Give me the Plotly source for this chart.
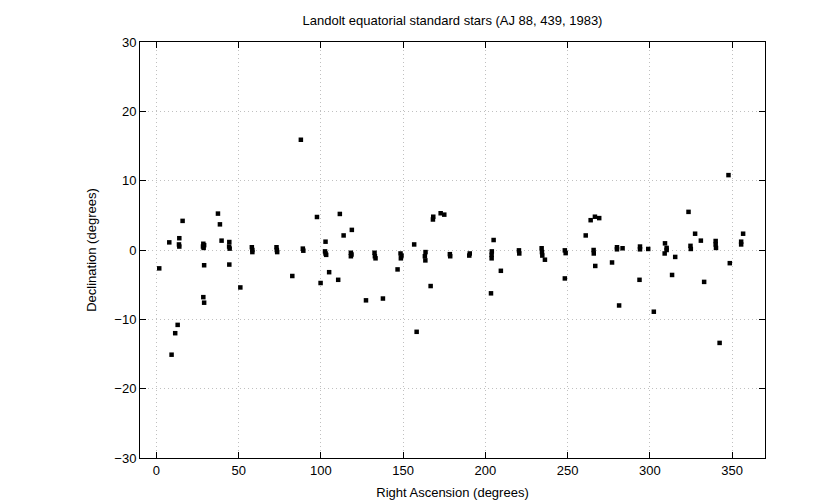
import plotly.graph_objects as go

ra = [1.7, 7.8, 9.2, 11.4, 12.9, 13.9, 13.7, 13.9, 15.9, 28.5, 28.3, 29.0, 28.7, 29.0, 28.5, 29.0,
      37.4, 38.6, 39.6, 44.3, 44.2, 44.5, 44.3, 51.0, 58.0, 58.3, 58.3, 73.0, 73.2, 73.4, 82.6,
      87.8, 89.0, 89.3, 97.6, 99.8, 102.8, 102.5, 102.8, 103.2, 105.0, 110.5, 111.5, 113.8, 118.8,
      118.2, 118.2, 118.6, 127.4, 132.6, 132.8, 133.2, 137.7, 146.6, 148.4, 149.0, 148.6, 156.7,
      158.2, 163.6, 163.2, 163.5, 166.7, 168.3, 168.1, 172.8, 175.0, 178.4, 178.6, 190.5, 190.2,
      203.9, 203.8, 203.8, 203.4, 205.0, 209.4, 220.4, 220.6, 234.2, 234.4, 234.6, 236.2, 248.3,
      248.8, 248.3, 261.0, 264.0, 266.6, 269.2, 265.8, 265.9, 266.8, 277.0, 280.0, 280.0, 283.4,
      281.3, 294.0, 294.0, 293.7, 299.0, 302.4, 309.2, 310.2, 310.2, 309.0, 313.5, 315.4, 323.5,
      324.7, 324.9, 327.5, 331.0, 333.0, 340.0, 340.0, 340.2, 342.4, 347.8, 348.6, 355.5, 355.5,
      356.7]
dec = [-2.65, 1.1, -15.1, -12.0, -10.8, 1.7, 0.8, 0.5, 4.2, 0.9, 0.5, 0.7, 0.3, -2.2, -6.8, -7.6,
       5.25, 3.7, 1.35, 1.15, 0.5, 0.2, -2.1, -5.4, 0.4, 0.0, -0.3, 0.4, 0.0, -0.3, -3.75,
       15.9, 0.2, -0.1, 4.76, -4.76, 1.2, -0.2, -0.5, -0.7, -3.2, -4.3, 5.2, 2.1, 2.9,
       -0.4, -0.9, -0.65, -7.26, -0.4, -0.9, -1.2, -7.0, -2.8, -0.5, -0.8, -1.2, 0.8,
       -11.8, -0.3, -0.9, -1.5, -5.2, 4.8, 4.4, 5.3, 5.1, -0.6, -0.9, -0.5, -0.8,
       -0.2, -0.7, -1.2, -6.25, 1.44, -3.0, -0.05, -0.5, 0.25, -0.3, -0.8, -1.4, -0.05,
       -0.45, -4.1, 2.1, 4.3, 4.8, 4.6, 0.0, -0.5, -2.3, -1.8, 0.4, 0.1, 0.25,
       -8.0, 0.5, 0.1, -4.3, 0.15, -8.9, 0.96, 0.3, 0.0, -0.5, -3.6, -1.0, 5.5,
       0.6, 0.15, 2.35, 1.35, -4.6, 1.3, 0.8, 0.3, -13.4, 10.8, -1.9, 1.2, 0.8,
       2.35]

x_ticks = [0, 50, 100, 150, 200, 250, 300, 350]
y_ticks = [-30, -20, -10, 0, 10, 20, 30]

font = "Liberation Sans, Arial, sans-serif"

fig = go.Figure()
fig.add_trace(go.Scatter(
    x=ra, y=dec, mode="markers",
    marker=dict(symbol="square", size=4.5, color="black", line=dict(width=0)),
    showlegend=False,
))

axis_common = dict(
    showline=True, linecolor="black", linewidth=1, mirror="ticks",
    ticks="inside", ticklen=6, tickcolor="black",
    showgrid=True, gridcolor="#c0c0c0", griddash="1px,3px", gridwidth=1,
    zeroline=False, automargin=False,
    tickfont=dict(family=font, size=13, color="black"),
)

fig.update_xaxes(range=[-10, 370], tickvals=x_ticks,
                 title=dict(text="Right Ascension (degrees)", font=dict(family=font, size=13, color="black"), standoff=11),
                 **axis_common)
fig.update_yaxes(range=[-30, 30], tickvals=y_ticks,
                 title=dict(text="Declination (degrees)", font=dict(family=font, size=13, color="black"), standoff=14),
                 **axis_common)

fig.update_layout(
    width=840, height=504,
    margin=dict(l=140, r=75, t=42, b=46),
    paper_bgcolor="white", plot_bgcolor="white",
    title=dict(text="Landolt equatorial standard stars (AJ 88, 439, 1983)",
               x=(140 + 765) / 2 / 840, xanchor="center", y=1 - 20 / 504, yanchor="middle",
               font=dict(family=font, size=13, color="black")),
)

fig.write_html("out.html")
